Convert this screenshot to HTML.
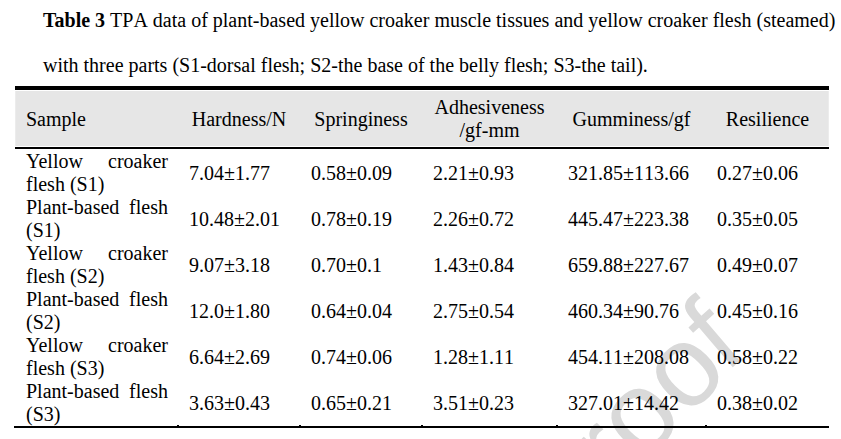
<!DOCTYPE html>
<html>
<head>
<meta charset="utf-8">
<style>
html,body{margin:0;padding:0;background:#fff;}
body{width:841px;height:439px;overflow:hidden;}
#pg{width:841px;height:439px;overflow:hidden;position:relative;font-kerning:none;font-variant-ligatures:none;font-family:"Liberation Serif","Times New Roman",serif;font-size:20px;color:#000;}
.t{position:absolute;white-space:nowrap;line-height:23px;}
.wm{position:absolute;font-family:"Liberation Sans",Arial,sans-serif;font-size:110px;color:#d9d9d9;white-space:nowrap;line-height:1;transform-origin:0 0;}
.bar{position:absolute;background:#000;}
.hd{position:absolute;left:15px;width:814px;top:91px;height:55px;background:#e6e6e6;box-shadow:inset 1px 0 #ececec,inset -1px 0 #ececec;}
.c1{position:absolute;left:26px;width:142px;font-kerning:normal;white-space:normal;text-align:justify;line-height:23px;}
.d{position:absolute;white-space:nowrap;line-height:23px;}
.h{position:absolute;white-space:nowrap;line-height:23px;text-align:center;}
</style>
</head>
<body>
<div id="pg">
<div class="wm" style="left:0;top:0;font-size:114.87px;transform:translate(62.57px,915.20px) rotate(-45.5deg);">Journal Pre-proo</div>
<div class="wm" style="left:0;top:0;font-size:114.87px;transform:matrix(0.6918,-0.6245,0.6330,0.7428,664.24,301.43);">f</div>

<div class="t" style="left:43px;top:9px;"><b style="font-kerning:normal">Table 3</b> TPA data of plant-based yellow croaker muscle tissues and yellow croaker flesh (steamed)</div>
<div class="t" style="left:43px;top:54px;">with three parts (S1-dorsal flesh; S2-the base of the belly flesh; S3-the tail).</div>

<div class="bar" style="left:15px;width:814px;top:86px;height:4px;"></div>
<div class="hd"></div>
<div class="bar" style="left:15px;width:814px;top:147px;height:2px;"></div>
<div class="bar" style="left:14px;width:815px;top:426px;height:2px;"></div>
<div class="bar" style="left:177px;width:2px;top:425px;height:1px;"></div>
<div class="bar" style="left:299px;width:2px;top:425px;height:1px;"></div>
<div class="bar" style="left:421px;width:2px;top:425px;height:1px;"></div>
<div class="bar" style="left:556px;width:2px;top:425px;height:1px;"></div>
<div class="bar" style="left:705px;width:2px;top:425px;height:1px;"></div>

<!-- header -->
<div class="t" style="left:26px;top:108px;">Sample</div>
<div class="h" style="left:178px;width:122px;top:108px;">Hardness/N</div>
<div class="h" style="left:300px;width:122px;top:108px;">Springiness</div>
<div class="h" style="left:422px;width:135px;top:96px;">Adhesiveness<br>/gf-mm</div>
<div class="h" style="left:557px;width:149px;top:108px;">Gumminess/gf</div>
<div class="h" style="left:706px;width:123px;top:108px;">Resilience</div>

<!-- rows -->
<div class="c1" style="top:150px;">Yellow croaker flesh (S1)</div>
<div class="c1" style="top:196px;">Plant-based flesh (S1)</div>
<div class="c1" style="top:242px;">Yellow croaker flesh (S2)</div>
<div class="c1" style="top:288px;">Plant-based flesh (S2)</div>
<div class="c1" style="top:334px;">Yellow croaker flesh (S3)</div>
<div class="c1" style="top:380px;">Plant-based flesh (S3)</div>

<div class="d" style="left:189px;top:162px;">7.04±1.77</div>
<div class="d" style="left:311px;top:162px;">0.58±0.09</div>
<div class="d" style="left:433px;top:162px;">2.21±0.93</div>
<div class="d" style="left:568px;top:162px;">321.85±113.66</div>
<div class="d" style="left:717px;top:162px;">0.27±0.06</div>

<div class="d" style="left:189px;top:208px;">10.48±2.01</div>
<div class="d" style="left:311px;top:208px;">0.78±0.19</div>
<div class="d" style="left:433px;top:208px;">2.26±0.72</div>
<div class="d" style="left:568px;top:208px;">445.47±223.38</div>
<div class="d" style="left:717px;top:208px;">0.35±0.05</div>

<div class="d" style="left:189px;top:254px;">9.07±3.18</div>
<div class="d" style="left:311px;top:254px;">0.70±0.1</div>
<div class="d" style="left:433px;top:254px;">1.43±0.84</div>
<div class="d" style="left:568px;top:254px;">659.88±227.67</div>
<div class="d" style="left:717px;top:254px;">0.49±0.07</div>

<div class="d" style="left:189px;top:300px;">12.0±1.80</div>
<div class="d" style="left:311px;top:300px;">0.64±0.04</div>
<div class="d" style="left:433px;top:300px;">2.75±0.54</div>
<div class="d" style="left:568px;top:300px;">460.34±90.76</div>
<div class="d" style="left:717px;top:300px;">0.45±0.16</div>

<div class="d" style="left:189px;top:346px;">6.64±2.69</div>
<div class="d" style="left:311px;top:346px;">0.74±0.06</div>
<div class="d" style="left:433px;top:346px;">1.28±1.11</div>
<div class="d" style="left:568px;top:346px;">454.11±208.08</div>
<div class="d" style="left:717px;top:346px;">0.58±0.22</div>

<div class="d" style="left:189px;top:392px;">3.63±0.43</div>
<div class="d" style="left:311px;top:392px;">0.65±0.21</div>
<div class="d" style="left:433px;top:392px;">3.51±0.23</div>
<div class="d" style="left:568px;top:392px;">327.01±14.42</div>
<div class="d" style="left:717px;top:392px;">0.38±0.02</div>
</div>
</body>
</html>
